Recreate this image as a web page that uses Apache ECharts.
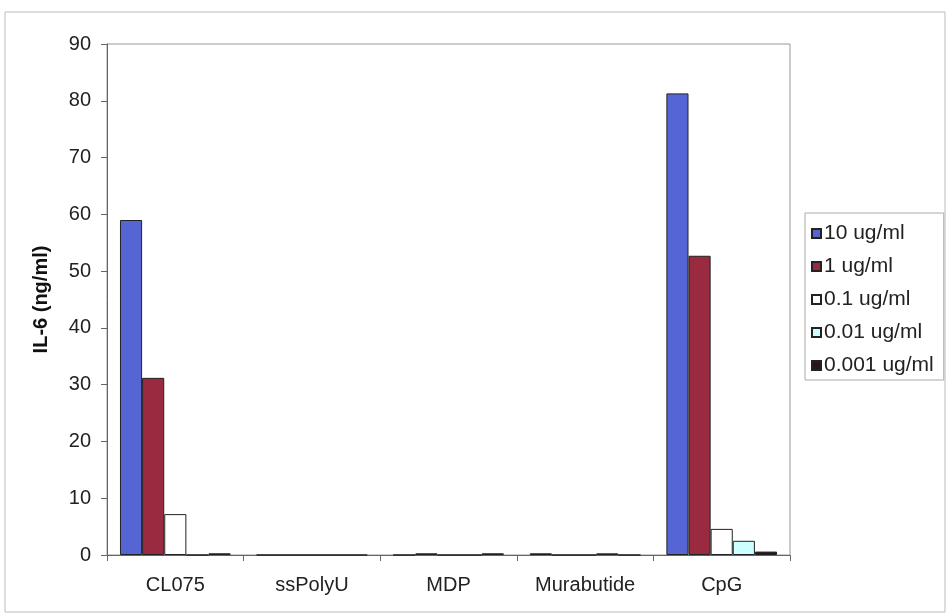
<!DOCTYPE html>
<html><head><meta charset="utf-8">
<script src="https://cdn.jsdelivr.net/npm/echarts@6/dist/echarts.min.js"></script>
<style>html,body{margin:0;padding:0;background:#fff}#c{width:951px;height:616px}</style>
</head><body><div id="c"></div>
<script>
const categories = ['CL075', 'ssPolyU', 'MDP', 'Murabutide', 'CpG'];
const seriesNames = ['10 ug/ml', '1 ug/ml', '0.1 ug/ml', '0.01 ug/ml', '0.001 ug/ml'];
const s10 = [59.0, 0, 0, 0.3, 81.3];
const s1 = [31.2, 0, 0.3, 0, 52.7];
const s01 = [7.2, 0, 0, 0, 4.6];
const s001 = [0, 0, 0, 0.3, 2.5];
const s0001 = [0.3, 0, 0.3, 0, 0.6];
const yTicks = [0, 10, 20, 30, 40, 50, 60, 70, 80, 90];

const colors = ['#5566d4', '#9a2a40', '#ffffff', '#ccffff', '#2a1222'];
const data = [s10, s1, s01, s001, s0001];
const FONT = 'Liberation Sans, Arial, sans-serif';

const chart = echarts.init(document.getElementById('c'), null, {renderer: 'canvas'});
chart.setOption({
  animation: false,
  backgroundColor: '#fff',
  graphic: [{type: 'rect', shape: {x: 5, y: 12, width: 940, height: 600}, style: {fill: 'none', stroke: '#bbbbbb', lineWidth: 1}, silent: true}],
  grid: {left: 107, right: 161, top: 44, bottom: 61, show: true, borderColor: '#999', borderWidth: 1, backgroundColor: 'transparent'},
  legend: {
    orient: 'vertical', left: 805, top: 213,
    data: seriesNames, icon: 'rect', itemWidth: 9, itemHeight: 9, itemGap: 12,
    padding: [10, 10, 4, 6],
    borderColor: '#aaa', borderWidth: 1,
    textStyle: {fontFamily: FONT, fontSize: 21, color: '#222', padding: [0, 0, 0, -2]}
  },
  xAxis: {
    type: 'category', data: categories,
    axisLine: {lineStyle: {color: '#666'}},
    axisTick: {show: true, length: 6, lineStyle: {color: '#666'}},
    axisLabel: {fontFamily: FONT, fontSize: 20, color: '#222', margin: 20}
  },
  yAxis: {
    type: 'value', min: 0, max: 90, interval: 10,
    name: 'IL-6 (ng/ml)', nameLocation: 'middle', nameGap: 56, nameRotate: 90,
    nameTextStyle: {fontFamily: FONT, fontSize: 20, fontWeight: 'bold', color: '#111'},
    axisLine: {show: true, lineStyle: {color: '#666'}},
    axisTick: {show: true, inside: false, length: 6, lineStyle: {color: '#666'}},
    splitLine: {show: false},
    axisLabel: {fontFamily: FONT, fontSize: 20, color: '#222', margin: 16,
      formatter: v => yTicks.includes(v) ? String(v) : ''}
  },
  series: seriesNames.map((n, i) => ({
    name: n, type: 'bar', data: data[i],
    barGap: '0%', barCategoryGap: '19%',
    itemStyle: {color: colors[i], borderColor: '#222', borderWidth: 1}
  }))
});
</script></body></html>
